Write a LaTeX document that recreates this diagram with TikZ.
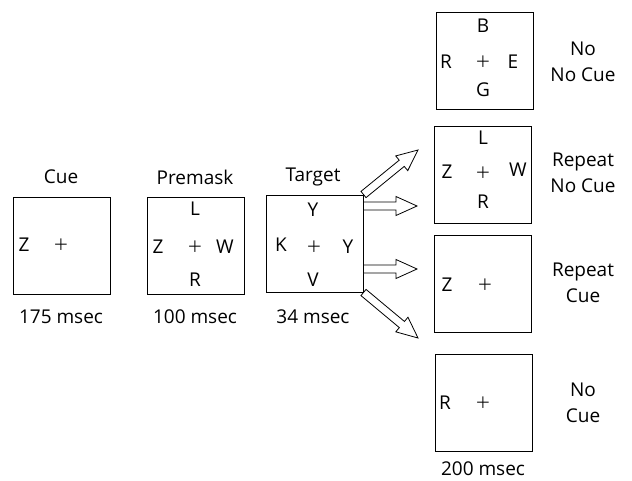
\documentclass[tikz,border=0pt]{standalone}
\usepackage{fontspec}
\setmainfont{Open Sans}
\usetikzlibrary{calc}
\tikzset{
  frame/.style={draw, line width=1pt, minimum width=97pt, minimum height=97pt, inner sep=0pt},
  glyph/.style={inner sep=0pt, font=\fontsize{19}{23}\selectfont},
  fixation/.style={inner sep=0pt, font=\fontsize{25}{28}\selectfont\light},
  caption/.style={inner sep=0pt, align=center, font=\fontsize{19}{26}\selectfont},
  hollow/.style={draw, line width=0.8pt, fill=white, line join=miter},
}
\newfontfamily\light{Open Sans Light}
% hollow block arrow from #1 to #2
\newcommand\hollowarrow[2]{%
  \coordinate (hb) at ($(#2)!21pt!(#1)$);
  \draw[hollow]
    ($(#1)!4pt!90:(#2)$) -- ($(hb)!4pt!90:(#2)$) -- ($(hb)!9.5pt!90:(#2)$) --
    (#2) -- ($(hb)!9.5pt!-90:(#2)$) -- ($(hb)!4pt!-90:(#2)$) --
    ($(#1)!4pt!-90:(#2)$) -- cycle;
}
\begin{document}
\begin{tikzpicture}[x=1pt, y=-1pt]
\useasboundingbox (0,0) rectangle (632,480);

% left sequence
\node[frame] (cue) at (61.5,245.5) {};
\node[frame] (pre) at (195.5,245.5) {};
\node[frame] (tgt) at (314.5,243.5) {};

\node[caption] (cueT) at (61,177) {Cue};
\node[caption] (preT) at (195,177) {Premask};
\node[caption] (tgtT) at (313,177) {Target};
\node[caption] (cueD) at (61,317) {175 msec};
\node[caption] (preD) at (195,317) {100 msec};
\node[caption] (tgtD) at (313,317) {34 msec};

\node[glyph] (c1) at (24,245) {Z};
\node[fixation] (c2) at (61,246) {+};

\node[glyph] (p1) at (195,209) {L};
\node[glyph] (p2) at (158,247) {Z};
\node[fixation] (p3) at (195,248) {+};
\node[glyph] (p4) at (225,247) {W};
\node[glyph] (p5) at (195,280) {R};

\node[glyph] (t1) at (313,210) {Y};
\node[glyph] (t2) at (281,245) {K};
\node[fixation] (t3) at (314,248) {+};
\node[glyph] (t4) at (348,247) {Y};
\node[glyph] (t5) at (313,280) {V};

% probe displays
\node[frame] (r1) at (485,61) {};
\node[frame] (r2) at (482.5,175) {};
\node[frame] (r3) at (482.5,284) {};
\node[frame] (r4) at (483.5,403) {};

\node[glyph] (a1) at (483,26) {B};
\node[glyph] (a2) at (446,62) {R};
\node[fixation] (a3) at (483,63) {+};
\node[glyph] (a4) at (513,62) {E};
\node[glyph] (a5) at (483,90) {G};

\node[glyph] (b1) at (483,138) {L};
\node[glyph] (b2) at (447,172) {Z};
\node[fixation] (b3) at (483,174) {+};
\node[glyph] (b4) at (518,170) {W};
\node[glyph] (b5) at (483,202) {R};

\node[glyph] (d1) at (447,285) {Z};
\node[fixation] (d2) at (485,286) {+};

\node[glyph] (e1) at (445,403) {R};
\node[fixation] (e2) at (483,404) {+};

\node[caption] (r1T) at (583,62) {No\\No Cue};
\node[caption] (r2T) at (583,173) {Repeat\\No Cue};
\node[caption] (r3T) at (583,283) {Repeat\\Cue};
\node[caption] (r4T) at (583,403) {No\\Cue};
\node[caption] (r4D) at (483,469) {200 msec};

% arrows from the target display
\coordinate (s1) at (tgt.north east);
\coordinate (e1) at (418,150);
\coordinate (s2) at ($(tgt.east)+(0,-37.5)$);
\coordinate (e2) at (417,206);
\coordinate (s3) at ($(tgt.east)+(0,25.5)$);
\coordinate (e3) at (417,269);
\coordinate (s4) at (tgt.south east);
\coordinate (e4) at (418,338);
\hollowarrow{s1}{e1}
\hollowarrow{s2}{e2}
\hollowarrow{s3}{e3}
\hollowarrow{s4}{e4}
\end{tikzpicture}
\end{document}
